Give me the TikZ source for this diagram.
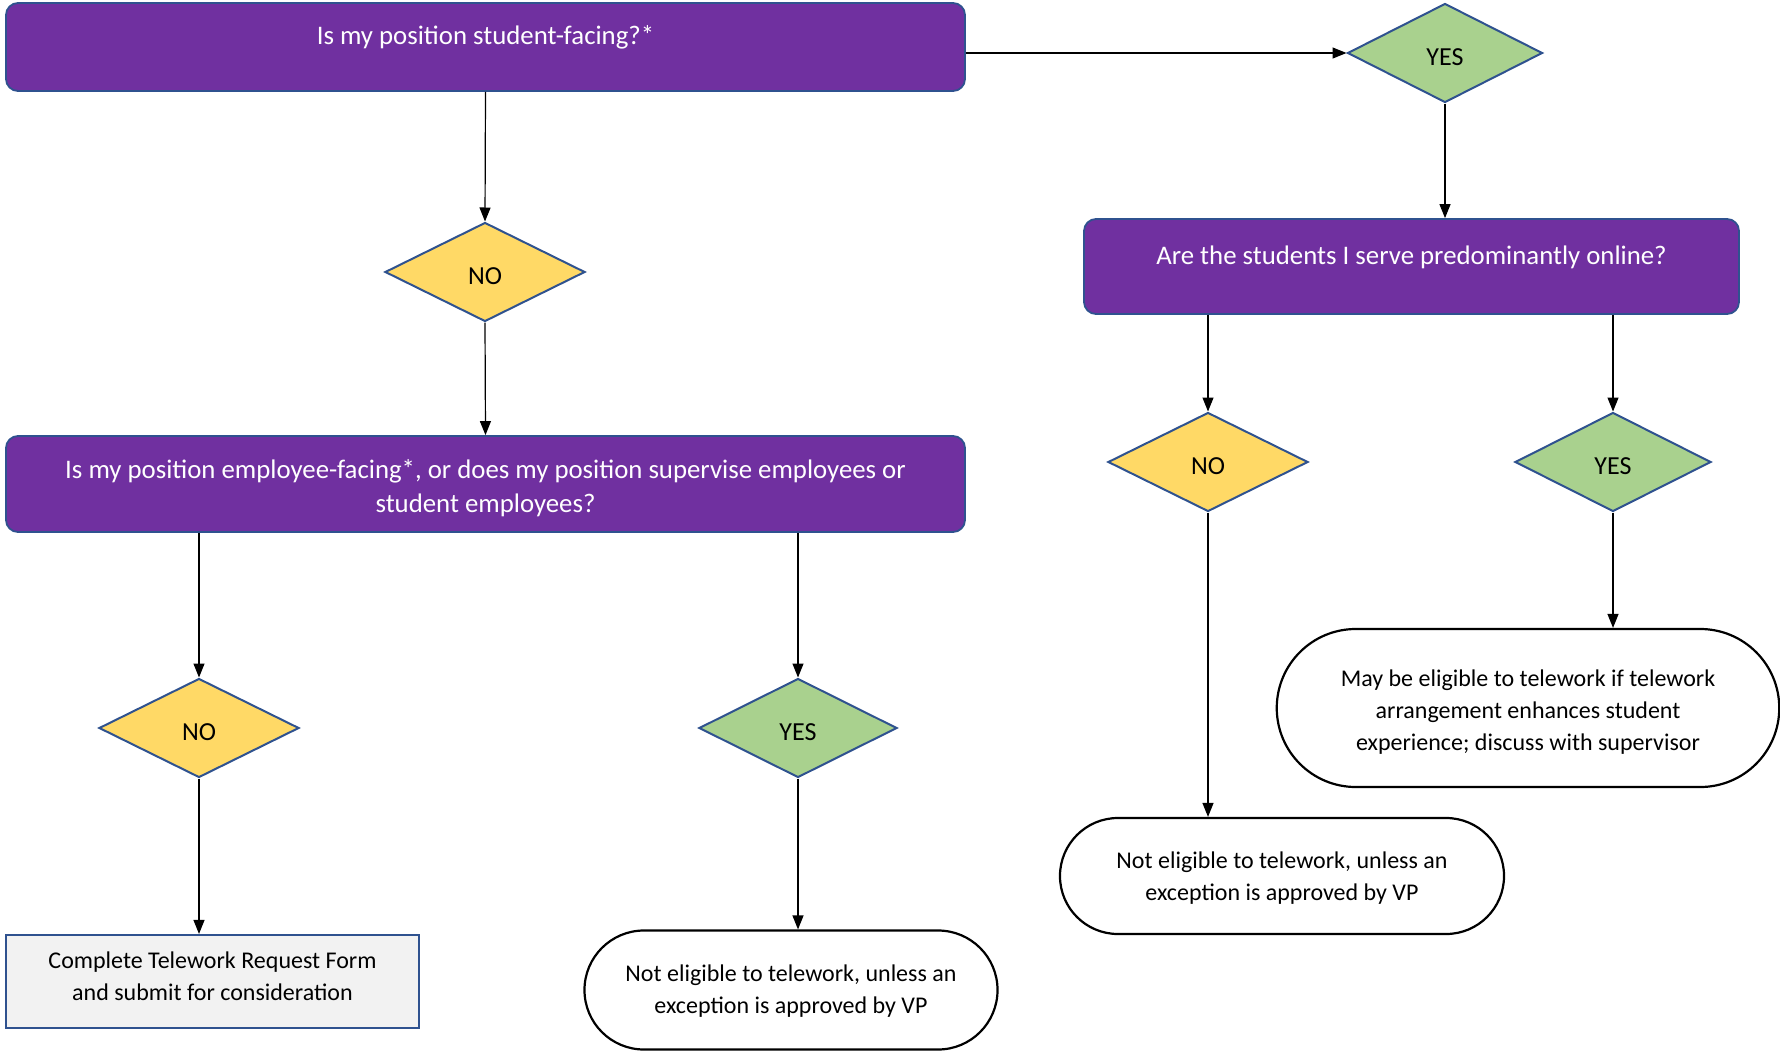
\documentclass[tikz,border=0pt]{standalone}
\usepackage{fontspec}
\setmainfont{Carlito}
\usetikzlibrary{arrows.meta,shapes.geometric,shapes.misc}
\definecolor{qpurple}{HTML}{7030A0}
\definecolor{edgeblue}{HTML}{2F528F}
\definecolor{noyellow}{HTML}{FFD966}
\definecolor{yesgreen}{HTML}{A9D18E}
\definecolor{formgray}{HTML}{F2F2F2}
\begin{document}
\begin{tikzpicture}[x=1pt,y=-1pt,
    question/.style={draw=edgeblue, fill=qpurple, text=white, rounded corners=12pt, line width=1.8pt, inner sep=0pt, align=center, font=\fontsize{26.8}{34}\selectfont},
    nobox/.style={diamond, draw=edgeblue, fill=noyellow, line width=2pt, inner sep=0pt, minimum width=200pt, minimum height=99pt, text height=24pt, text depth=0pt, font=\fontsize{26}{30}\selectfont},
    yesbox/.style={nobox, fill=yesgreen},
    endbox/.style={rounded rectangle, draw, line width=2.2pt, inner sep=0pt, align=center, font=\fontsize{24}{32}\selectfont},
    formbox/.style={draw=edgeblue, fill=formgray, line width=2.2pt, inner sep=0pt, align=center, font=\fontsize{24}{32}\selectfont},
    arrow/.style={-{Triangle[length=14pt,width=11pt]}, line width=1.2pt}]
  \useasboundingbox (0,0) rectangle (1780,1052);
  \node[question, minimum width=959pt, text height=41pt, text depth=47pt] (q1) at (485.5,47) {Is my position student-facing?*};
  \node[yesbox, minimum width=195pt] (yes1) at (1445,53) {YES};
  \node[question, minimum width=655pt, text height=45pt, text depth=50pt] (q3) at (1411.5,266.5) {Are the students I serve predominantly online?};
  \node[nobox] (no1) at (485,272) {NO};
  \node[question, minimum width=959pt, text height=76pt, text depth=20pt] (q2) at (485.5,484) {Is my position employee-facing*, or does my position supervise employees or\\student employees?};
  \node[nobox] (no3) at (1208,462) {NO};
  \node[yesbox, minimum width=196pt] (yes3) at (1613,462) {YES};
  \node[nobox] (no2) at (199,728) {NO};
  \node[yesbox, minimum width=198pt] (yes2) at (798,728) {YES};
  \node[endbox, inner xsep=-15pt, text height=121pt, text depth=37pt] (end3) at (1528,708) {May be eligible to telework if telework\\arrangement enhances student\\experience; discuss with supervisor};
  \node[endbox, inner xsep=-1.5pt, text height=82pt, text depth=34pt] (end2) at (1282,876) {Not eligible to telework, unless an\\exception is approved by VP};
  \node[formbox, minimum width=413pt, text height=65pt, text depth=28pt] (form) at (212.5,981.5) {Complete Telework Request Form\\and submit for consideration};
  \node[endbox, inner xsep=-18.5pt, text height=83pt, text depth=36pt] (end1) at (791,990) {Not eligible to telework, unless an\\exception is approved by VP};
  \draw[arrow] (q1.east |- yes1.west) -- (yes1.west);
  \draw[arrow] (q1.south) -- (no1.north);
  \draw[arrow] (no1.south) -- (q2.north);
  \draw[arrow] (yes1.south) -- (yes1.south |- q3.north);
  \draw[arrow] (q3.south -| no3.north) -- (no3.north);
  \draw[arrow] (q3.south -| yes3.north) -- (yes3.north);
  \draw[arrow] (no3.south) -- (no3.south |- end2.north);
  \draw[arrow] (yes3.south) -- (yes3.south |- end3.north);
  \draw[arrow] (q2.south -| no2.north) -- (no2.north);
  \draw[arrow] (q2.south -| yes2.north) -- (yes2.north);
  \draw[arrow] (no2.south) -- (no2.south |- form.north);
  \draw[arrow] (yes2.south) -- (yes2.south |- end1.north);
\end{tikzpicture}
\end{document}
